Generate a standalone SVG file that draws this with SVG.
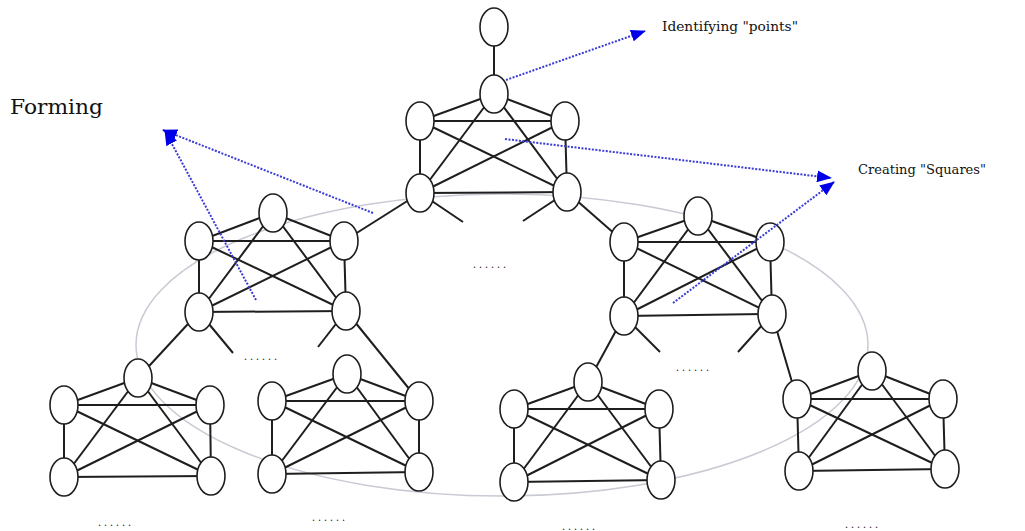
<svg xmlns="http://www.w3.org/2000/svg" width="1025" height="531" viewBox="0 0 1025 531">
  <style>
    .nd { fill: #ffffff; stroke: #1e1e1e; stroke-width: 1.6; }
    .ed { stroke: #1e1e1e; stroke-width: 2; fill: none; }
    .halo { fill: none; stroke: #c8cad4; stroke-width: 1.5; }
    .ptr { fill: none; stroke: #3b3bd6; stroke-width: 2; stroke-dasharray: 2 1.5; marker-end: url(#ah); }
    .lbl { font-family: "DejaVu Serif", "Liberation Serif", serif; fill: #111111; }
    .dots { font-family: "Liberation Serif", "Times New Roman", serif; font-size: 12px; letter-spacing: 3px; fill: #333333; text-anchor: middle; }
  </style>
  <defs>
    <marker id="ah" markerUnits="userSpaceOnUse" markerWidth="15" markerHeight="12" refX="14" refY="6" orient="auto">
      <path d="M0,0 L15,6 L0,12 z" fill="#0000e8"/>
    </marker>
  </defs>

  <rect width="1025" height="531" fill="#ffffff"/>

  <!-- faint enclosing ellipse behind the network -->
  <ellipse class="halo" cx="502" cy="345" rx="366" ry="151"/>

  <!-- connectors -->
  <g id="connectors" class="ed">
    <!-- root to top cluster -->
    <line x1="494" y1="27" x2="494" y2="94"/>
    <!-- top cluster -->
    <line x1="494" y1="94" x2="420" y2="121"/><line x1="494" y1="94" x2="565" y2="121"/>
    <line x1="494" y1="94" x2="420" y2="193"/><line x1="494" y1="94" x2="567" y2="192"/>
    <line x1="420" y1="121" x2="565" y2="121"/><line x1="420" y1="121" x2="420" y2="193"/>
    <line x1="420" y1="121" x2="567" y2="192"/><line x1="565" y1="121" x2="420" y2="193"/>
    <line x1="565" y1="121" x2="567" y2="192"/><line x1="420" y1="193" x2="567" y2="192"/>
    <!-- left cluster -->
    <line x1="273" y1="213" x2="199" y2="241"/><line x1="273" y1="213" x2="344" y2="241"/>
    <line x1="273" y1="213" x2="199" y2="312"/><line x1="273" y1="213" x2="346" y2="311"/>
    <line x1="199" y1="241" x2="344" y2="241"/><line x1="199" y1="241" x2="199" y2="312"/>
    <line x1="199" y1="241" x2="346" y2="311"/><line x1="344" y1="241" x2="199" y2="312"/>
    <line x1="344" y1="241" x2="346" y2="311"/><line x1="199" y1="312" x2="346" y2="311"/>
    <!-- right cluster -->
    <line x1="698" y1="216" x2="624" y2="242"/><line x1="698" y1="216" x2="770" y2="242"/>
    <line x1="698" y1="216" x2="624" y2="316"/><line x1="698" y1="216" x2="772" y2="314"/>
    <line x1="624" y1="242" x2="770" y2="242"/><line x1="624" y1="242" x2="624" y2="316"/>
    <line x1="624" y1="242" x2="772" y2="314"/><line x1="770" y1="242" x2="624" y2="316"/>
    <line x1="770" y1="242" x2="772" y2="314"/><line x1="624" y1="316" x2="772" y2="314"/>
    <!-- bottom cluster 1 -->
    <line x1="138" y1="378" x2="64" y2="405"/><line x1="138" y1="378" x2="210" y2="405"/>
    <line x1="138" y1="378" x2="64" y2="477"/><line x1="138" y1="378" x2="211" y2="476"/>
    <line x1="64" y1="405" x2="210" y2="405"/><line x1="64" y1="405" x2="64" y2="477"/>
    <line x1="64" y1="405" x2="211" y2="476"/><line x1="210" y1="405" x2="64" y2="477"/>
    <line x1="210" y1="405" x2="211" y2="476"/><line x1="64" y1="477" x2="211" y2="476"/>
    <!-- bottom cluster 2 -->
    <line x1="347" y1="374" x2="272" y2="401"/><line x1="347" y1="374" x2="419" y2="401"/>
    <line x1="347" y1="374" x2="272" y2="474"/><line x1="347" y1="374" x2="419" y2="472"/>
    <line x1="272" y1="401" x2="419" y2="401"/><line x1="272" y1="401" x2="272" y2="474"/>
    <line x1="272" y1="401" x2="419" y2="472"/><line x1="419" y1="401" x2="272" y2="474"/>
    <line x1="419" y1="401" x2="419" y2="472"/><line x1="272" y1="474" x2="419" y2="472"/>
    <!-- bottom cluster 3 -->
    <line x1="588" y1="382" x2="514" y2="409"/><line x1="588" y1="382" x2="659" y2="409"/>
    <line x1="588" y1="382" x2="514" y2="482"/><line x1="588" y1="382" x2="661" y2="480"/>
    <line x1="514" y1="409" x2="659" y2="409"/><line x1="514" y1="409" x2="514" y2="482"/>
    <line x1="514" y1="409" x2="661" y2="480"/><line x1="659" y1="409" x2="514" y2="482"/>
    <line x1="659" y1="409" x2="661" y2="480"/><line x1="514" y1="482" x2="661" y2="480"/>
    <!-- bottom cluster 4 -->
    <line x1="872" y1="371" x2="797" y2="399"/><line x1="872" y1="371" x2="943" y2="399"/>
    <line x1="872" y1="371" x2="799" y2="471"/><line x1="872" y1="371" x2="945" y2="469"/>
    <line x1="797" y1="399" x2="943" y2="399"/><line x1="797" y1="399" x2="799" y2="471"/>
    <line x1="797" y1="399" x2="945" y2="469"/><line x1="943" y1="399" x2="799" y2="471"/>
    <line x1="943" y1="399" x2="945" y2="469"/><line x1="799" y1="471" x2="945" y2="469"/>
    <!-- links between clusters and open stubs -->
    <line x1="420" y1="193" x2="344" y2="241"/>
    <line x1="420" y1="193" x2="463" y2="222"/>
    <line x1="567" y1="192" x2="523" y2="221"/>
    <line x1="567" y1="192" x2="624" y2="242"/>
    <line x1="199" y1="312" x2="138" y2="378"/>
    <line x1="199" y1="312" x2="233" y2="353"/>
    <line x1="346" y1="311" x2="318" y2="347"/>
    <line x1="346" y1="311" x2="419" y2="401"/>
    <line x1="624" y1="316" x2="588" y2="382"/>
    <line x1="624" y1="316" x2="660" y2="352"/>
    <line x1="772" y1="314" x2="738" y2="352"/>
    <line x1="772" y1="314" x2="797" y2="399"/>
  </g>

  <!-- nodes -->
  <g id="root"><ellipse class="nd" cx="494" cy="27" rx="14" ry="19"/></g>
  <g id="top-t"><ellipse class="nd" cx="494" cy="94" rx="14" ry="19"/></g>
  <g id="top-ul"><ellipse class="nd" cx="420" cy="121" rx="14" ry="19"/></g>
  <g id="top-ur"><ellipse class="nd" cx="565" cy="121" rx="14" ry="19"/></g>
  <g id="top-ll"><ellipse class="nd" cx="420" cy="193" rx="14" ry="19"/></g>
  <g id="top-lr"><ellipse class="nd" cx="567" cy="192" rx="14" ry="19"/></g>

  <g id="left-t"><ellipse class="nd" cx="273" cy="213" rx="14" ry="19"/></g>
  <g id="left-ul"><ellipse class="nd" cx="199" cy="241" rx="14" ry="19"/></g>
  <g id="left-ur"><ellipse class="nd" cx="344" cy="241" rx="14" ry="19"/></g>
  <g id="left-ll"><ellipse class="nd" cx="199" cy="312" rx="14" ry="19"/></g>
  <g id="left-lr"><ellipse class="nd" cx="346" cy="311" rx="14" ry="19"/></g>

  <g id="right-t"><ellipse class="nd" cx="698" cy="216" rx="14" ry="19"/></g>
  <g id="right-ul"><ellipse class="nd" cx="624" cy="242" rx="14" ry="19"/></g>
  <g id="right-ur"><ellipse class="nd" cx="770" cy="242" rx="14" ry="19"/></g>
  <g id="right-ll"><ellipse class="nd" cx="624" cy="316" rx="14" ry="19"/></g>
  <g id="right-lr"><ellipse class="nd" cx="772" cy="314" rx="14" ry="19"/></g>

  <g id="b1-t"><ellipse class="nd" cx="138" cy="378" rx="14" ry="19"/></g>
  <g id="b1-ul"><ellipse class="nd" cx="64" cy="405" rx="14" ry="19"/></g>
  <g id="b1-ur"><ellipse class="nd" cx="210" cy="405" rx="14" ry="19"/></g>
  <g id="b1-ll"><ellipse class="nd" cx="64" cy="477" rx="14" ry="19"/></g>
  <g id="b1-lr"><ellipse class="nd" cx="211" cy="476" rx="14" ry="19"/></g>

  <g id="b2-t"><ellipse class="nd" cx="347" cy="374" rx="14" ry="19"/></g>
  <g id="b2-ul"><ellipse class="nd" cx="272" cy="401" rx="14" ry="19"/></g>
  <g id="b2-ur"><ellipse class="nd" cx="419" cy="401" rx="14" ry="19"/></g>
  <g id="b2-ll"><ellipse class="nd" cx="272" cy="474" rx="14" ry="19"/></g>
  <g id="b2-lr"><ellipse class="nd" cx="419" cy="472" rx="14" ry="19"/></g>

  <g id="b3-t"><ellipse class="nd" cx="588" cy="382" rx="14" ry="19"/></g>
  <g id="b3-ul"><ellipse class="nd" cx="514" cy="409" rx="14" ry="19"/></g>
  <g id="b3-ur"><ellipse class="nd" cx="659" cy="409" rx="14" ry="19"/></g>
  <g id="b3-ll"><ellipse class="nd" cx="514" cy="482" rx="14" ry="19"/></g>
  <g id="b3-lr"><ellipse class="nd" cx="661" cy="480" rx="14" ry="19"/></g>

  <g id="b4-t"><ellipse class="nd" cx="872" cy="371" rx="14" ry="19"/></g>
  <g id="b4-ul"><ellipse class="nd" cx="797" cy="399" rx="14" ry="19"/></g>
  <g id="b4-ur"><ellipse class="nd" cx="943" cy="399" rx="14" ry="19"/></g>
  <g id="b4-ll"><ellipse class="nd" cx="799" cy="471" rx="14" ry="19"/></g>
  <g id="b4-lr"><ellipse class="nd" cx="945" cy="469" rx="14" ry="19"/></g>

  <!-- annotation pointers -->
  <g id="pointers">
    <line class="ptr" x1="506" y1="80" x2="645" y2="31"/>
    <line class="ptr" x1="505" y1="139" x2="831" y2="178"/>
    <line class="ptr" x1="673" y1="303" x2="834" y2="182"/>
    <line class="ptr" x1="373" y1="213" x2="163" y2="130"/>
    <line class="ptr" x1="256" y1="300" x2="165" y2="131"/>
  </g>

  <!-- labels -->
  <g id="labels">
    <text class="lbl" x="10" y="114" font-size="20" textLength="93" lengthAdjust="spacingAndGlyphs">Forming</text>
    <text class="lbl" x="662" y="31" font-size="13" textLength="136" lengthAdjust="spacingAndGlyphs">Identifying "points"</text>
    <text class="lbl" x="858" y="174" font-size="13" textLength="128" lengthAdjust="spacingAndGlyphs">Creating "Squares"</text>
  </g>

  <g id="ellipses">
    <text class="dots" x="491" y="268">......</text>
    <text class="dots" x="262" y="360">......</text>
    <text class="dots" x="694" y="371">......</text>
    <text class="dots" x="116" y="526">......</text>
    <text class="dots" x="330" y="521">......</text>
    <text class="dots" x="580" y="530">......</text>
    <text class="dots" x="863" y="528">......</text>
  </g>
</svg>
